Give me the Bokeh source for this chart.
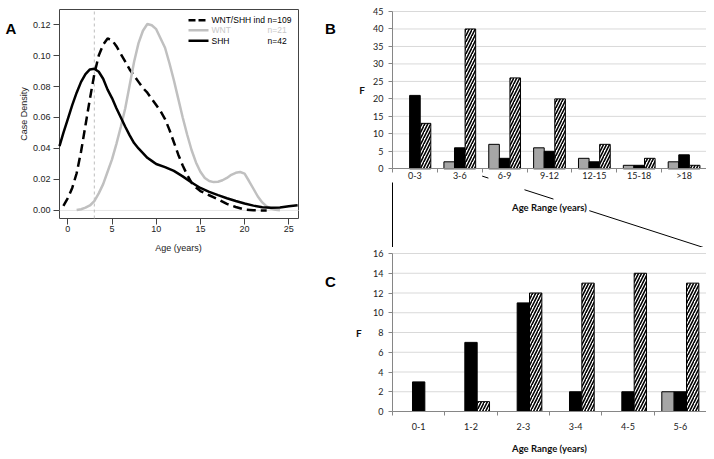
import numpy as np
from bokeh.plotting import figure
from bokeh.models import Range1d, FixedTicker, ColumnDataSource, NumeralTickFormatter
from bokeh.layouts import row, column
from bokeh.transform import dodge
from bokeh.core.properties import value
from bokeh.embed import file_html
from bokeh.resources import INLINE

# ---------------- Panel A : density curves ----------------
ind_x = [-0.5, 0, 0.5, 1, 1.5, 2, 2.5, 3, 3.5, 4, 4.5, 5, 5.5, 6, 6.5, 7, 7.5, 8,
         8.5, 9, 9.5, 10, 10.5, 11, 11.5, 12, 12.5, 13, 13.5, 14, 14.5, 15, 16,
         17, 18, 19, 20, 21, 22, 22.5]
ind_y = [0.003, 0.008, 0.0145, 0.024, 0.038, 0.055, 0.072, 0.088, 0.100, 0.107,
         0.111, 0.110, 0.106, 0.101, 0.096, 0.091, 0.087, 0.083, 0.079, 0.076,
         0.072, 0.068, 0.064, 0.059, 0.052, 0.044, 0.036, 0.029, 0.023, 0.018,
         0.0148, 0.0125, 0.0098, 0.0072, 0.0042, 0.0022, 0.0006, 0.0001, 0.0, 0.0]

wnt_x = [1, 1.5, 2, 2.5, 3, 3.5, 4, 4.5, 5, 5.5, 6, 6.5, 7, 7.5, 8, 8.5, 9, 9.5,
         10, 10.5, 11, 11.5, 12, 12.5, 13, 13.5, 14, 14.5, 15, 15.5, 16, 16.5, 17,
         17.5, 18, 18.5, 19, 19.5, 20, 20.5, 21, 21.5, 22, 22.5, 23, 23.5, 24]
wnt_y = [0.0003, 0.0008, 0.0018, 0.0032, 0.006, 0.011, 0.017, 0.025, 0.033, 0.043,
         0.054, 0.066, 0.081, 0.096, 0.108, 0.116, 0.1203, 0.1195, 0.117, 0.111,
         0.105, 0.095, 0.084, 0.072, 0.060, 0.049, 0.039, 0.031, 0.025, 0.021,
         0.019, 0.0183, 0.0185, 0.0195, 0.021, 0.023, 0.0243, 0.0248, 0.0238,
         0.019, 0.014, 0.009, 0.0052, 0.0026, 0.0012, 0.0005, 0.0002]

shh_x = [-0.94, -0.5, 0, 0.5, 1, 1.5, 2, 2.5, 3, 3.5, 4, 4.5, 5, 5.5, 6, 6.5, 7,
         7.5, 8, 8.5, 9, 9.5, 10, 11, 12, 13, 14, 15, 16, 17, 18, 19, 20, 21, 22,
         23, 24, 25, 26]
shh_y = [0.0415, 0.050, 0.059, 0.068, 0.076, 0.083, 0.088, 0.091, 0.0915, 0.0895,
         0.085, 0.078, 0.0725, 0.066, 0.060, 0.054, 0.0485, 0.0435, 0.040, 0.037,
         0.034, 0.032, 0.030, 0.028, 0.0255, 0.022, 0.018, 0.0145, 0.012, 0.0099,
         0.0079, 0.0061, 0.0045, 0.0031, 0.0021, 0.0017, 0.0019, 0.0027, 0.0034]

a_xticks = [0, 5, 10, 15, 20, 25]
a_yticks = [0.0, 0.02, 0.04, 0.06, 0.08, 0.10, 0.12]
legend_labels = ["WNT/SHH ind", "WNT", "SHH"]
legend_n = ["n=109", "n=21", "n=42"]
median_line = 3

# ---------------- Panel B / C : histograms ----------------
b_categories = ["0-3", "3-6", "6-9", "9-12", "12-15", "15-18", ">18"]
b_wnt = [0, 2, 7, 6, 3, 1, 2]
b_shh = [21, 6, 3, 5, 2, 1, 4]
b_ind = [13, 40, 26, 20, 7, 3, 1]
b_yticks = [0, 5, 10, 15, 20, 25, 30, 35, 40, 45]

c_categories = ["0-1", "1-2", "2-3", "3-4", "4-5", "5-6"]
c_wnt = [0, 0, 0, 0, 0, 2]
c_shh = [3, 7, 11, 2, 2, 2]
c_ind = [0, 1, 12, 13, 14, 13]
c_yticks = [0, 2, 4, 6, 8, 10, 12, 14, 16]

FA = "Liberation Sans"
FB = "Lato"
GRAY_LINE = "#c0c0c0"
AX = "#868686"
GRID = "#d9d9d9"

# ======================= Panel A =======================
# the whole canvas of A is its frame; the R-style box sits inside it
A_W, A_H = 340, 455
BOX_X0, BOX_X1, BOX_Y0, BOX_Y1 = -0.94, 26.1, -0.0052, 0.1297
BOX_L, BOX_R, BOX_T, BOX_B = 59, 298, 9, 218
ax_s = (BOX_X1 - BOX_X0) / (BOX_R - BOX_L)
ay_s = (BOX_Y1 - BOX_Y0) / (BOX_B - BOX_T)


def ax_(px):
    return BOX_X0 + (px - BOX_L) * ax_s


def ay_(py):
    return BOX_Y0 + (BOX_B - py) * ay_s


pA = figure(frame_width=A_W, frame_height=A_H,
            x_range=Range1d(ax_(0), ax_(A_W)), y_range=Range1d(ay_(A_H), ay_(0)),
            min_border=0, output_backend="svg", toolbar_location=None)
pA.xgrid.visible = False
pA.ygrid.visible = False
pA.outline_line_color = None
for ax in (pA.xaxis[0], pA.yaxis[0]):
    ax.axis_line_color = None
    ax.major_tick_out = 6
    ax.major_tick_in = 0
    ax.minor_tick_line_color = None
    ax.major_tick_line_color = "#444444"
    ax.major_label_text_font = FA
    ax.major_label_text_font_size = "9px"
    ax.major_label_text_color = "#222222"
pA.xaxis.fixed_location = BOX_Y0
pA.yaxis.fixed_location = BOX_X0
pA.xaxis.ticker = FixedTicker(ticks=a_xticks)
pA.yaxis.ticker = FixedTicker(ticks=a_yticks)
pA.yaxis.formatter = NumeralTickFormatter(format="0.00")
pA.xaxis.major_label_standoff = 1
pA.yaxis.major_label_standoff = 3

# box, reference lines
pA.quad(left=[BOX_X0], right=[BOX_X1], bottom=[BOX_Y0], top=[BOX_Y1],
        fill_color=None, line_color="#444444", line_width=1)
pA.segment(x0=[BOX_X0], x1=[BOX_X1], y0=[0], y1=[0], line_color="#e6e6e6", line_width=1)
pA.segment(x0=[median_line], x1=[median_line], y0=[BOX_Y0], y1=[BOX_Y1],
           line_color="#bdbdbd", line_dash="3 3", line_width=1)

pA.line(ind_x, ind_y, line_color="black", line_width=2.5, line_dash="9 5")
pA.line(wnt_x, wnt_y, line_color=GRAY_LINE, line_width=2.5)
pA.line(shh_x, shh_y, line_color="black", line_width=2.5)

# legend (drawn by hand to keep the n= column)
leg_py = [19.7, 29.7, 40.3]
leg_y = [ay_(v) for v in leg_py]
styles = [dict(line_color="black", line_dash="7 3"), dict(line_color=GRAY_LINE),
          dict(line_color="black")]
for yy, st in zip(leg_y, styles):
    pA.segment(x0=[ax_(188)], x1=[ax_(208)], y0=[yy], y1=[yy], line_width=2.5, **st)
leg_colors = ["#000000", "#c8c8c8", "#000000"]
pA.text(x=[ax_(211)] * 3, y=leg_y, text=legend_labels, text_baseline="middle",
        text_font=value(FA), text_font_size="8.5px", text_color=leg_colors)
pA.text(x=[ax_(267)] * 3, y=leg_y, text=legend_n, text_baseline="middle",
        text_font=value(FA), text_font_size="8.5px", text_color=leg_colors)

# axis titles
pA.text(x=[ax_(178)], y=[ay_(247)], text=["Age (years)"], text_align="center",
        text_baseline="middle", text_font=value(FA), text_font_size="9px",
        text_color="#222222")
pA.text(x=[ax_(23)], y=[ay_(113.5)], text=["Case Density"], angle=np.pi / 2,
        text_align="center", text_baseline="middle", text_font=value(FA),
        text_font_size="9px", text_color="#222222")

# panel letters
pA.text(x=[ax_(10.5), ax_(330), ax_(330)], y=[ay_(28), ay_(27.5), ay_(281)],
        text=["A", "B", "C"], text_align="center", text_baseline="middle",
        text_font=value(FA), text_font_size="15px", text_font_style="bold",
        text_color="black")


# ======================= helpers for B / C =======================
def draw_bars(p, cats, wnt, shh, ind):
    w = 0.236
    src = ColumnDataSource(dict(
        x=np.arange(len(cats)) + 0.5,
        wnt=wnt, shh=shh, ind=ind,
        wnt_a=[1.0 if v > 0 else 0.0 for v in wnt],
        shh_a=[1.0 if v > 0 else 0.0 for v in shh],
        ind_a=[1.0 if v > 0 else 0.0 for v in ind],
    ))
    p.vbar(x=dodge("x", -w), top="wnt", width=w, source=src, fill_color="#a6a6a6",
           line_color="black", line_width=1, line_alpha="wnt_a")
    p.vbar(x="x", top="shh", width=w, source=src, fill_color="black",
           line_color="black", line_width=1, line_alpha="shh_a")
    p.vbar(x=dodge("x", w), top="ind", width=w, source=src, fill_color="white",
           line_color="black", line_width=1, line_alpha="ind_a",
           hatch_pattern="/", hatch_color="black", hatch_weight=1.6, hatch_scale=6)


def make_hist(width, height, left, top, zero, cats, yticks, x_standoff):
    """Whole canvas is the frame; plot area is [left, width] x [top, zero] px."""
    n = len(cats)
    xs = n / (width - left)
    ys = yticks[-1] / (zero - top)

    def fx(px):
        return (px - left) * xs

    def fy(py):
        return (zero - py) * ys

    p = figure(frame_width=width, frame_height=height,
               x_range=Range1d(fx(0), fx(width)), y_range=Range1d(fy(height), fy(0)),
               min_border=0, output_backend="svg", toolbar_location=None)
    p.outline_line_color = None
    p.xgrid.visible = False
    p.ygrid.visible = False
    xa, ya = p.xaxis[0], p.yaxis[0]
    for ax in (xa, ya):
        ax.major_label_text_font = FB
        ax.major_label_text_font_size = "9px"
        ax.major_label_text_color = "#222222"
        ax.axis_line_color = AX
    xa.fixed_location = 0
    xa.bounds = (0, n)
    xa.ticker = FixedTicker(ticks=[i + 0.5 for i in range(n)],
                            minor_ticks=list(range(n + 1)))
    xa.major_label_overrides = {i + 0.5: c for i, c in enumerate(cats)}
    xa.major_tick_out = 4
    xa.major_tick_in = 0
    xa.major_tick_line_color = None
    xa.minor_tick_out = 4
    xa.minor_tick_in = 0
    xa.minor_tick_line_color = AX
    xa.major_label_standoff = x_standoff
    ya.fixed_location = 0
    ya.bounds = (0, yticks[-1])
    ya.ticker = FixedTicker(ticks=yticks)
    ya.major_tick_out = 4
    ya.major_tick_in = 0
    ya.major_tick_line_color = AX
    ya.minor_tick_line_color = None
    ya.major_label_standoff = 5
    # horizontal grid lines over the plot area only
    p.segment(x0=[0] * (len(yticks) - 1), x1=[n] * (len(yticks) - 1),
              y0=yticks[1:], y1=yticks[1:], line_color=GRID, line_width=1)
    return p, fx, fy


def add_titles(p, fx, fy, n, yticks, f_px, title_py):
    p.text(x=[fx(f_px)], y=[yticks[-1] / 2], text=["F"], text_align="center",
           text_baseline="middle", text_font=value(FB), text_font_size="10px",
           text_font_style="bold", text_color="#111111")
    p.text(x=[n / 2], y=[fy(title_py)], text=["Age Range (years)"], text_align="center",
           text_baseline="middle", text_font=value(FB), text_font_size="9.5px",
           text_font_style="bold", text_color="#111111")


# ======================= Panel B =======================
# canvas starts at page (340, 0); plot area x 392..706, y 11..168.3
nb = len(b_categories)
pB, bx_, by_ = make_hist(366, 247, 52, 11, 168.3, b_categories, b_yticks, -3)
draw_bars(pB, b_categories, b_wnt, b_shh, b_ind)
add_titles(pB, bx_, by_, nb, b_yticks, 21.7, 207)

# zoom connector lines (from the 0-6 range of B down to panel C)
cx0, cy0, cx1, cy1 = bx_(141.7), by_(175.6), bx_(363), by_(247)
pieces = [(0.0, 0.028), (0.191, 0.322), (0.484, 1.0)]
pB.segment(x0=[cx0 + (cx1 - cx0) * a for a, b in pieces],
           y0=[cy0 + (cy1 - cy0) * a for a, b in pieces],
           x1=[cx0 + (cx1 - cx0) * b for a, b in pieces],
           y1=[cy0 + (cy1 - cy0) * b for a, b in pieces],
           line_color="black", line_width=1)
pB.segment(x0=[0], y0=[by_(182)], x1=[0], y1=[by_(247)], line_color="black", line_width=1)

# ======================= Panel C =======================
# canvas starts at page (340, 247); plot area x 392..706, y 253..411
nc = len(c_categories)
pC, cx_, cy_ = make_hist(366, 208, 52, 6, 164, c_categories, c_yticks, 7)
draw_bars(pC, c_categories, c_wnt, c_shh, c_ind)
add_titles(pC, cx_, cy_, nc, c_yticks, 18.3, 201.3)

layout = row(pA, column(pB, pC))
open("out.html", "w").write(file_html(layout, INLINE))
